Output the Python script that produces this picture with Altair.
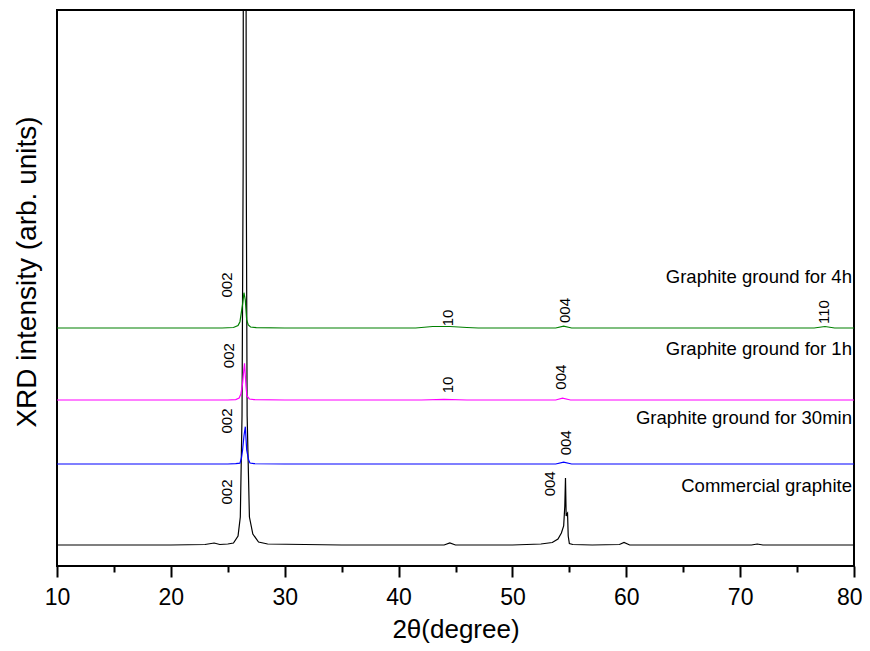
import altair as alt
import pandas as pd

# ---- data (2theta in degrees, intensity in arbitrary units) ----
black_x = [10, 15, 20, 23.0, 23.8, 24.3, 25.0, 25.5, 25.9, 26.1, 26.25, 26.35, 26.48, 26.62, 26.70,
           26.9, 27.2, 27.7, 28.5, 35, 44.0, 44.5, 45.0, 50, 52.5, 53.5, 54.0, 54.3, 54.5, 54.6,
           54.66, 54.72, 54.78, 54.84, 54.9, 55.0, 55.3, 57, 59.4, 59.8, 60.3, 65, 71.0, 71.5, 72.0, 80]
black_y = [21, 21, 21, 21.5, 23, 21.5, 22, 23, 30, 49, 150, 400, 2500, 400, 150,
           49, 32, 24, 22, 21, 21, 23, 21, 21, 22, 23.5, 27, 33, 40, 60,
           88, 50, 52, 53, 30, 22.5, 21.5, 21, 21.5, 23.5, 21, 21, 21, 22, 21, 21]

blue_x = [10, 20, 25.0, 25.7, 26.07, 26.2, 26.3, 26.42, 26.54, 26.66, 26.83, 26.95, 27.3, 30,
          40, 50, 53.8, 54.5, 55.2, 60, 70, 80]
blue_y = [102, 102, 102, 102.3, 102.8, 108, 116, 130, 139.3, 116, 106, 103, 102.3, 102,
          102, 102, 102, 103.8, 102, 102, 102, 102]

magenta_x = [10, 20, 25.0, 25.7, 26.0, 26.15, 26.3, 26.40, 26.47, 26.6, 26.68, 26.9, 27.3, 30,
             42, 44, 46, 53.8, 54.4, 55.1, 60, 70, 80]
magenta_y = [166, 166, 166, 166.4, 168, 172, 182.7, 195, 202.7, 180, 170, 167, 166.3, 166,
             166, 166.6, 166, 166, 167.8, 166, 166, 166, 166]

green_x = [10, 20, 24.5, 25.5, 25.9, 26.07, 26.31, 26.42, 26.54, 26.66, 26.8, 27.0, 27.5, 30,
           41.5, 43.0, 44.5, 46.0, 47, 53.8, 54.5, 55.2, 60, 70, 76.5, 77.45, 78.3, 80]
green_y = [238, 238, 238, 238.5, 240.5, 244.3, 262.7, 273.3, 266, 246, 241, 239, 238.3, 238,
           238, 239.5, 239.5, 238.5, 238, 238, 239.8, 238, 238, 238, 238, 239.5, 238, 238]

series_names = ["Commercial graphite", "Graphite ground for 30min",
                "Graphite ground for 1h", "Graphite ground for 4h"]
series_colors = ["#000000", "#0000FF", "#FF00FF", "#008000"]

# peak index labels
peak_text = ["002", "002", "002", "002", "004", "004", "004", "004", "10", "10", "110"]
peak_x = [24.97, 24.97, 25.15, 24.90, 53.34, 54.72, 54.29, 54.59, 44.37, 44.37, 77.36]
peak_y = [74, 145, 210.3, 281, 82.2, 123.2, 188.8, 255.5, 181, 248, 254]

# sample labels
label_x = [79.82, 79.82, 79.82, 79.82]
label_y = [80.2, 148.2, 216.8, 289]

major_ticks = [10, 20, 30, 40, 50, 60, 70, 80]
minor_ticks = [15, 25, 35, 45, 55, 65, 75]

# ---- build tables ----
rows = []
for name, xs, ys in zip(series_names,
                        [black_x, blue_x, magenta_x, green_x],
                        [black_y, blue_y, magenta_y, green_y]):
    for i, (a, b) in enumerate(zip(xs, ys)):
        rows.append({"series": name, "theta": a, "intensity": b, "order": i})
lines_df = pd.DataFrame(rows)
peaks_df = pd.DataFrame({"text": peak_text, "theta": peak_x, "intensity": peak_y})
labels_df = pd.DataFrame({"text": series_names, "theta": label_x, "intensity": label_y})

FONT = "Liberation Sans"
xscale = alt.Scale(domain=[10, 80], nice=False, zero=False)
yscale = alt.Scale(domain=[0, 556], nice=False, zero=False)

y_axis = alt.Axis(labels=False, ticks=False, domain=False, grid=False,
                  title="XRD intensity (arb. units)", titleFont=FONT, titleFontSize=28,
                  titleFontWeight="normal", titleColor="black",
                  titleAngle=270, titleX=-21.5, titleY=261.5,
                  titleAlign="center", titleBaseline="alphabetic")

lines = alt.Chart(lines_df).mark_line(strokeWidth=1.2, clip=True).encode(
    x=alt.X("theta:Q", scale=xscale,
            axis=alt.Axis(values=major_ticks, tickSize=11, tickWidth=2, tickColor="black",
                          labelFont=FONT, labelFontSize=23, labelColor="black", labelPadding=9,
                          labelAlign={"condition": {"test": "datum.value == 80", "value": "right"},
                                      "value": "center"},
                          labelOffset={"condition": {"test": "datum.value == 80", "value": 8},
                                       "value": 0},
                          domain=False, grid=False,
                          title="2θ(degree)", titleFont=FONT, titleFontSize=26,
                          titleFontWeight="normal", titleColor="black",
                          titleY=71, titleBaseline="alphabetic")),
    y=alt.Y("intensity:Q", scale=yscale, axis=y_axis),
    color=alt.Color("series:N", scale=alt.Scale(domain=series_names, range=series_colors),
                    legend=None),
    detail="series:N",
    order="order:Q",
)

peaks = alt.Chart(peaks_df).mark_text(angle=270, align="center", baseline="middle",
                                      font=FONT, fontSize=15, color="black").encode(
    x=alt.X("theta:Q", scale=xscale, axis=None),
    y=alt.Y("intensity:Q", scale=yscale, axis=y_axis),
    text="text:N",
)

labels = alt.Chart(labels_df).mark_text(align="right", baseline="middle",
                                        font=FONT, fontSize=18.5, color="black").encode(
    x=alt.X("theta:Q", scale=xscale,
            axis=alt.Axis(values=minor_ticks, orient="bottom", labels=False, domain=False,
                          grid=False, title=None, tickSize=6, tickWidth=2, tickColor="black")),
    y=alt.Y("intensity:Q", scale=yscale, axis=y_axis),
    text="text:N",
)

chart = alt.layer(lines, peaks, labels).resolve_axis(x="independent").properties(
    width=797, height=556,
    padding={"left": 49, "top": 2, "right": 8, "bottom": 77},
    autosize=alt.AutoSizeParams(type="none"),
    background="white",
).configure_view(stroke="black", strokeWidth=2)

chart.save("out.html", embed_options={"renderer": "svg", "actions": False})
